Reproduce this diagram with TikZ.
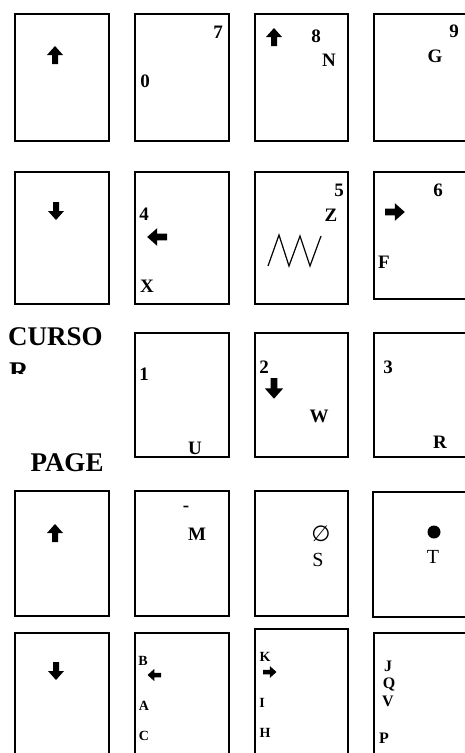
\documentclass[tikz,border=0pt]{standalone}
\usepackage{fontspec}
\setmainfont{Liberation Serif}
\newfontfamily\symfont{DejaVu Sans}

\begin{document}
\begin{tikzpicture}[x=1pt, y=-1pt,
  card/.style={draw, line width=1.3pt, anchor=north west, outer sep=0pt,
               inner sep=0pt, minimum width=94pt},
  lbl/.style={font=\bfseries\fontsize{19}{19}\selectfont, inner sep=0pt},
  small/.style={font=\bfseries\fontsize{14}{14}\selectfont, inner sep=0pt},
  mid/.style={font=\bfseries\fontsize{16}{16}\selectfont, inner sep=0pt},
  plain/.style={font=\fontsize{20}{20}\selectfont, inner sep=0pt},
  title/.style={font=\bfseries\fontsize{27}{27}\selectfont, inner sep=0pt},
  heavyarrow/.pic={\fill (-3,0) -- (-3,-9) -- (-8,-9) -- (0,-18) -- (8,-9)
                     -- (3,-9) -- (3,0) -- cycle;}
]
\useasboundingbox (0,0) rectangle (465,753);
\clip (0,0) rectangle (465,753);

% row 1
\node[card, minimum height=127pt] (b11) at (15,14) {};
\node[card, minimum height=127pt] (b12) at (135,14) {};
\node[card, minimum height=127pt, minimum width=93pt] (b13) at (255,14) {};
\node[card, minimum height=127pt, minimum width=100pt] (b14) at (374,14) {};
\pic at (55,64) {heavyarrow};
\node[lbl] (n7) at (218,32) {7};
\node[lbl] (n0) at (145,81) {0};
\pic at (274,46) {heavyarrow};
\node[lbl] (n8) at (316,36) {8};
\node[lbl] (lN) at (329,60) {N};
\node[lbl] (n9) at (454,31) {9};
\node[lbl] (lG) at (435,56) {G};

% row 2
\node[card, minimum height=132pt] (b21) at (15,172) {};
\node[card, minimum height=132pt] (b22) at (135,172) {};
\node[card, minimum height=132pt, minimum width=93pt] (b23) at (255,172) {};
\node[card, minimum height=127pt, minimum width=100pt] (b24) at (374,172) {};
\pic[rotate=180] at (56,202) {heavyarrow};
\node[lbl] (n4) at (144,214) {4};
\pic[rotate=90, scale=1.1] at (167,237) {heavyarrow};
\node[lbl] (lX) at (147,286) {X};
\node[lbl] (n5) at (339,190) {5};
\node[lbl] (lZ) at (331,215) {Z};
\draw[line width=1.2pt, line join=miter] (268,266) -- (279,235) -- (289,266)
  -- (300,236) -- (310,266) -- (321,236);
\node[lbl] (n6) at (438,190) {6};
\pic[rotate=-90, scale=1.1] at (385,212) {heavyarrow};
\node[lbl] (lF) at (384,262) {F};

% row 3
\node[title, anchor=west] (curso) at (8,337) {CURSO};
\begin{scope}
  \clip (0,355) rectangle (120,373);
  \node[title, anchor=north west] (cursr) at (9,363) {R};
\end{scope}
\node[title] (page) at (67,463) {PAGE};
\node[card, minimum height=124pt] (b32) at (135,333) {};
\node[card, minimum height=124pt, minimum width=93pt] (b33) at (255,333) {};
\node[card, minimum height=124pt, minimum width=100pt] (b34) at (374,333) {};
\node[lbl] (n1) at (144,374) {1};
\node[lbl] (lU) at (195,448) {U};
\node[lbl] (n2) at (264,367) {2};
\pic[rotate=180, scale=1.15] at (274,378) {heavyarrow};
\node[lbl] (lW) at (319,416) {W};
\node[lbl] (n3) at (388,367) {3};
\node[lbl] (lR) at (440,442) {R};

% row 4
\node[card, minimum height=125pt] (b41) at (15,491) {};
\node[card, minimum height=125pt] (b42) at (135,491) {};
\node[card, minimum height=125pt, minimum width=93pt] (b43) at (255,491) {};
\node[card, minimum height=125pt, minimum width=100pt] (b44) at (373,492) {};
\pic at (55,542) {heavyarrow};
\node[lbl] (dash) at (186,509) {-};
\node[lbl] (lM) at (197,534) {M};
\node[font=\symfont\fontsize{22}{22}\selectfont, inner sep=0pt] (empty) at (321,534) {∅};
\node[plain] (lS) at (318,560) {S};
\node[circle, fill, minimum size=13pt, inner sep=0pt] (dot) at (434,532) {};
\node[plain] (lT) at (433,557) {T};

% row 5
\node[card, minimum height=140pt] (b51) at (15,633) {};
\node[card, minimum height=140pt] (b52) at (135,633) {};
\node[card, minimum height=140pt, minimum width=93pt] (b53) at (255,629) {};
\node[card, minimum height=140pt, minimum width=100pt] (b54) at (374,633) {};
\pic[rotate=180] at (56,662) {heavyarrow};
\node[small] (lB) at (143,661) {B};
\pic[rotate=90, scale=0.75] at (161,675) {heavyarrow};
\node[small] (lA) at (144,706) {A};
\node[small] (lC) at (144,736) {C};
\node[small] (lK) at (265,657) {K};
\pic[rotate=-90, scale=0.75] at (263,672) {heavyarrow};
\node[small] (lI) at (262,703) {I};
\node[small] (lH) at (265,733) {H};
\node[mid] (lJ) at (388,666) {J};
\node[mid] (lQ) at (389,684) {Q};
\node[mid] (lV) at (388,701) {V};
\node[mid] (lP) at (384,738) {P};
\end{tikzpicture}
\end{document}
